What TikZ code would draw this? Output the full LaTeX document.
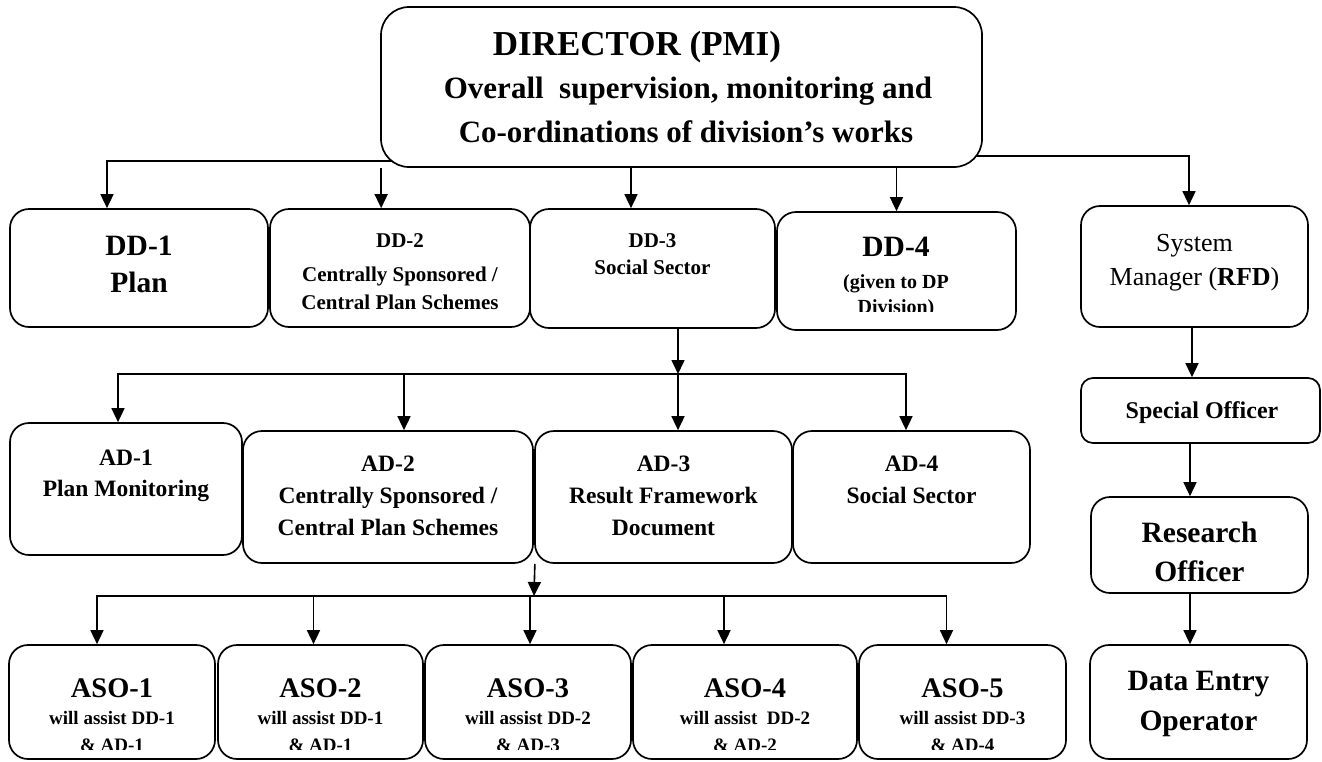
\documentclass[tikz,border=0pt]{standalone}
\usepackage{fontspec}
\setmainfont{Liberation Serif}
\usetikzlibrary{arrows.meta,calc}
\pgfdeclarelayer{bg}
\pgfsetlayers{bg,main}
\newcommand\setfs[1]{\fontsize{#1}{#1}\selectfont}
% \orgbox[options]{name}{x1}{y1}{x2}{y2}
\newcommand\orgbox[6][]{%
  \node[box,#1,minimum width={#5-#3},minimum height={#6-#4}] (#2) at ({(#3+#5)/2},{(#4+#6)/2}) {};}
\begin{document}
\begin{tikzpicture}[x=1pt,y=-1pt,
  box/.style={draw,line width=1.7pt,fill=white,rounded corners=19pt,inner sep=0pt},
  arr/.style={line width=1.6pt,-{Triangle[length=14pt,width=13pt]}},
  lbl/.style={anchor=base,inner sep=0pt,font=\bfseries},
  big/.style={lbl,font=\setfs{29.5}\bfseries},
  small/.style={lbl,font=\setfs{21}\bfseries},
  mid/.style={lbl,font=\setfs{23.5}\bfseries},
]
\useasboundingbox (0,0) rectangle (1322,761);

% ---------- boxes ----------
\orgbox[rounded corners=28pt]{dir}{381}{7}{982}{167}
\orgbox{dd1}{10}{209}{268}{327}
\orgbox{dd2}{270}{209}{530}{327}
\orgbox{dd3}{530}{209}{775}{328}
\orgbox{dd4}{777}{212}{1016}{330}
\orgbox{sm}{1081}{206}{1308}{327}
\orgbox[rounded corners=12pt]{so}{1081}{378}{1320}{443}
\orgbox{ro}{1091}{497}{1308}{593}
\orgbox{deo}{1090}{645}{1307}{759}
\orgbox{ad1}{10}{423}{242}{555}
\orgbox{ad2}{243}{431}{533}{563}
\orgbox{ad3}{535}{431}{792}{563}
\orgbox{ad4}{793}{431}{1030}{563}
\orgbox{aso1}{9}{645}{215}{759}
\orgbox{aso2}{218}{645}{423}{759}
\orgbox{aso3}{425}{645}{631}{759}
\orgbox{aso4}{633}{645}{857}{759}
\orgbox{aso5}{859}{645}{1066}{759}

% ---------- connectors ----------
\begin{pgfonlayer}{bg}
  % Director to deputy directors
  \draw[arr] ([shift={(14,-7)}]dir.south west) -| ([xshift=-32pt]dd1.north);
  \draw[arr] ([xshift=1pt]dir.south west) -- ([xshift=1pt]dir.south west |- dd2.north);
  \draw[arr] ([xshift=-21.5pt]dd3.north |- dir.south) -- ([xshift=-21.5pt]dd3.north);
  \draw[arr] (dd4.north |- dir.south) -- (dd4.north);
  \draw[arr] ([shift={(-10,-12)}]dir.south east) -| ([xshift=-5.5pt]sm.north);
  % right-hand column
  \draw[arr] ([xshift=-2.5pt]sm.south) -- ([xshift=-2.5pt]sm.south |- so.north);
  \draw[arr] ([xshift=-10.5pt]so.south) -- ([xshift=-10.5pt]so.south |- ro.north);
  \draw[arr] ([xshift=-9.5pt]ro.south) -- ([xshift=-9.5pt]ro.south |- deo.north);
  % DD-3 to assistant directors
  \coordinate (adbus) at (678,374);
  \draw[arr] ([xshift=25.5pt]dd3.south) -- (adbus);
  \draw[arr] (adbus) -- ([xshift=14.5pt]ad3.north);
  \draw[arr] (adbus) -| ([xshift=-8pt]ad1.north);
  \draw[arr] (adbus) -| ([xshift=-5.5pt]ad4.north);
  \draw[arr] ([xshift=16pt]ad2.north |- adbus) -- ([xshift=16pt]ad2.north);
  % AD row to assistant statistical officers
  \coordinate (asobus) at (534,596);
  \draw[arr] ([xshift=1pt]ad2.south east) -- (asobus);
  \draw[arr] (asobus) -| ([xshift=-15pt]aso1.north);
  \draw[arr] (asobus) -| ([xshift=-16pt]aso5.north);
  \draw[arr] ([xshift=-7pt]aso2.north |- asobus) -- ([xshift=-7pt]aso2.north);
  \draw[arr] ([xshift=2pt]aso3.north |- asobus) -- ([xshift=2pt]aso3.north);
  \draw[arr] ([xshift=-21pt]aso4.north |- asobus) -- ([xshift=-21pt]aso4.north);
\end{pgfonlayer}

% ---------- texts ----------
\node[lbl,font=\setfs{35}\bfseries] (dirt1) at (637,55) {DIRECTOR (PMI)};
\node[lbl,font=\setfs{31}\bfseries] (dirt2) at (688,98) {Overall\ \ supervision, monitoring and};
\node[lbl,font=\setfs{31}\bfseries] (dirt3) at (686,142) {Co-ordinations of division’s works};

\node[big] (dd1t1) at (139,255) {DD-1};
\node[big] (dd1t2) at (139,292) {Plan};

\node[small] (dd2t1) at (400,247) {DD-2};
\node[small] (dd2t2) at (400,281) {Centrally Sponsored /};
\node[small] (dd2t3) at (400,309) {Central Plan Schemes};

\node[small] (dd3t1) at (652.5,247) {DD-3};
\node[small] (dd3t2) at (652.5,274) {Social Sector};

\node[big] (dd4t1) at (896,256) {DD-4};
\node[lbl,font=\setfs{20}\bfseries] (dd4t2) at (896,288) {(given to DP};
\begin{scope}
  \clip (780,295) rectangle (1013,311);
  \node[lbl,font=\setfs{20}\bfseries] (dd4t3) at (896,313) {Division)};
\end{scope}

\node[lbl,font=\setfs{26}] (smt1) at (1194.5,251) {System};
\node[lbl,font=\setfs{26}] (smt2) at (1194.5,285) {Manager (\textbf{RFD})};

\node[lbl,font=\setfs{24}\bfseries] (sot) at (1202,418) {Special Officer};

\node[big] (rot1) at (1199.5,542) {Research};
\node[big] (rot2) at (1199.5,581) {Officer};

\node[big] (deot1) at (1198.5,690) {Data Entry};
\node[big] (deot2) at (1198.5,730) {Operator};

\node[mid] (ad1t1) at (126,465) {AD-1};
\node[mid] (ad1t2) at (126,496) {Plan Monitoring};

\node[mid] (ad2t1) at (388,471) {AD-2};
\node[mid] (ad2t2) at (388,503) {Centrally Sponsored /};
\node[mid] (ad2t3) at (388,535) {Central Plan Schemes};

\node[mid] (ad3t1) at (663.5,471) {AD-3};
\node[mid] (ad3t2) at (663.5,503) {Result Framework};
\node[mid] (ad3t3) at (663.5,535) {Document};

\node[mid] (ad4t1) at (911.5,471) {AD-4};
\node[mid] (ad4t2) at (911.5,503) {Social Sector};

% assistant statistical officers: title, duty and a cut-off last line
\foreach \nm/\ttl/\cx/\dd/\ad in {aso1/{ASO-1}/112/{DD-1}/{AD-1},aso2/{ASO-2}/320.5/{DD-1}/{AD-1},aso3/{ASO-3}/528/{DD-2}/{AD-3},aso4/{ASO-4}/745/{\ DD-2}/{AD-2},aso5/{ASO-5}/962.5/{DD-3}/{AD-4}}{
  \node[lbl,font=\setfs{28.4}\bfseries] (\nm t1) at (\cx,697) {\ttl};
  \node[lbl,font=\setfs{19}\bfseries] (\nm t2) at (\cx,724) {will assist \dd};
  \begin{scope}
    \clip (\cx-90,732) rectangle (\cx+90,749);
    \node[lbl,font=\setfs{19}\bfseries] (\nm t3) at (\cx,751) {\& \ad};
  \end{scope}
}
\end{tikzpicture}
\end{document}
